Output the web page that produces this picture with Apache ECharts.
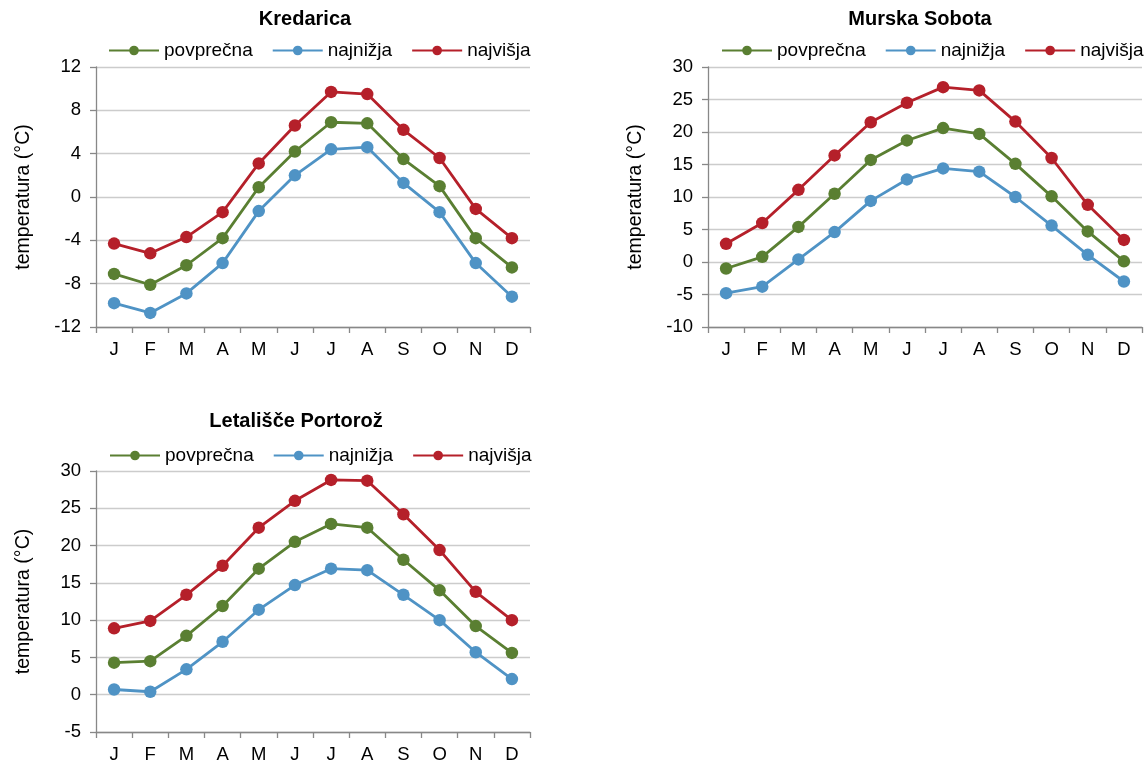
<!DOCTYPE html>
<html>
<head>
<meta charset="utf-8">
<script src="https://cdn.jsdelivr.net/npm/echarts@6/dist/echarts.min.js"></script>
<style>
html,body{margin:0;padding:0;background:#fff;}
#c{width:1147px;height:766px;}
</style>
</head>
<body>
<div id="c"></div>
<script>
const months = ['J','F','M','A','M','J','J','A','S','O','N','D'];
const seriesNames = ['povprečna','najnižja','najvišja'];
const stationNames = ['Kredarica','Murska Sobota','Letališče Portorož'];

const kredaricaAvg = [-7.1,-8.1,-6.3,-3.8,0.9,4.2,6.9,6.8,3.5,1.0,-3.8,-6.5];
const kredaricaMin = [-9.8,-10.7,-8.9,-6.1,-1.3,2.0,4.4,4.6,1.3,-1.4,-6.1,-9.2];
const kredaricaMax = [-4.3,-5.2,-3.7,-1.4,3.1,6.6,9.7,9.5,6.2,3.6,-1.1,-3.8];

const murskaAvg = [-1.0,0.8,5.4,10.5,15.7,18.7,20.6,19.7,15.1,10.1,4.7,0.1];
const murskaMin = [-4.8,-3.8,0.4,4.6,9.4,12.7,14.4,13.9,10.0,5.6,1.1,-3.0];
const murskaMax = [2.8,6.0,11.1,16.4,21.5,24.5,26.9,26.4,21.6,16.0,8.8,3.4];

const portorozAvg = [4.3,4.5,7.9,11.9,16.9,20.5,22.9,22.4,18.1,14.0,9.2,5.6];
const portorozMin = [0.7,0.4,3.4,7.1,11.4,14.7,16.9,16.7,13.4,10.0,5.7,2.1];
const portorozMax = [8.9,9.9,13.4,17.3,22.4,26.0,28.8,28.7,24.2,19.4,13.8,10.0];

const yMins = [-12,-10,-5];
const yMaxs = [12,30,30];
const yIntervals = [4,5,5];

const colors = ['#5a7f32','#4f93c5','#b5202a'];
const font = 'Liberation Sans, Arial, sans-serif';

const grids = [
  {left:96, top:67, width:434, height:260},
  {left:708, top:67, width:434, height:260},
  {left:96, top:471, width:434, height:261}
];
const titlePos = [{x:305,y:4},{x:920,y:4},{x:296,y:406}];
const legendPos = [{x:103,y:36},{x:716,y:36},{x:104,y:441}];

const data = [
  [kredaricaAvg,kredaricaMin,kredaricaMax],
  [murskaAvg,murskaMin,murskaMax],
  [portorozAvg,portorozMin,portorozMax]
];

const axisGray = '#888888';
const gridGray = '#cccccc';

const option = {
  animation:false,
  backgroundColor:'#fff',
  title: stationNames.map((n,i)=>({
    text:n, left:titlePos[i].x-5, top:titlePos[i].y, textAlign:'center',
    textStyle:{fontFamily:font,fontSize:20,fontWeight:'bold',color:'#000'}
  })),
  legend: [0,1,2].map(i=>({
    data:seriesNames, left:legendPos[i].x, top:legendPos[i].y, width:428,
    orient:'horizontal', padding:[5,0,5,5],
    itemWidth:50, itemHeight:12, itemGap:19, selectedMode:false,
    textStyle:{fontFamily:font,fontSize:19,color:'#000'}
  })),
  grid: grids,
  xAxis: [0,1,2].map(i=>({
    type:'category', gridIndex:i, data:months, boundaryGap:true,
    axisLine:{onZero:false,lineStyle:{color:axisGray,width:1.3}},
    axisTick:{show:true,length:6,lineStyle:{color:axisGray,width:1.3}},
    axisLabel:{color:'#000',fontFamily:font,fontSize:18.5,margin:13},
    splitLine:{show:false}
  })),
  yAxis: [0,1,2].map(i=>({
    type:'value', gridIndex:i, min:yMins[i], max:yMaxs[i], interval:yIntervals[i],
    name:'temperatura (°C)', nameLocation:'middle', nameGap:62, nameRotate:90,
    nameTextStyle:{fontFamily:font,fontSize:19.5,color:'#000'},
    axisLine:{show:true,lineStyle:{color:axisGray,width:1.3}},
    axisTick:{show:true,length:6,lineStyle:{color:axisGray,width:1.3}},
    axisLabel:{color:'#000',fontFamily:font,fontSize:18.5,margin:15},
    splitLine:{show:true,lineStyle:{color:gridGray,width:1.3}}
  })),
  series: []
};

for (let i=0;i<3;i++){
  for (let s=0;s<3;s++){
    option.series.push({
      type:'line', name:seriesNames[s], xAxisIndex:i, yAxisIndex:i,
      data:data[i][s], symbol:'circle', symbolSize:12.5,
      lineStyle:{color:colors[s],width:2.8},
      itemStyle:{color:colors[s]},
      z: 3
    });
  }
}

const chart = echarts.init(document.getElementById('c'),null,{renderer:'canvas'});
chart.setOption(option);
</script>
</body>
</html>
